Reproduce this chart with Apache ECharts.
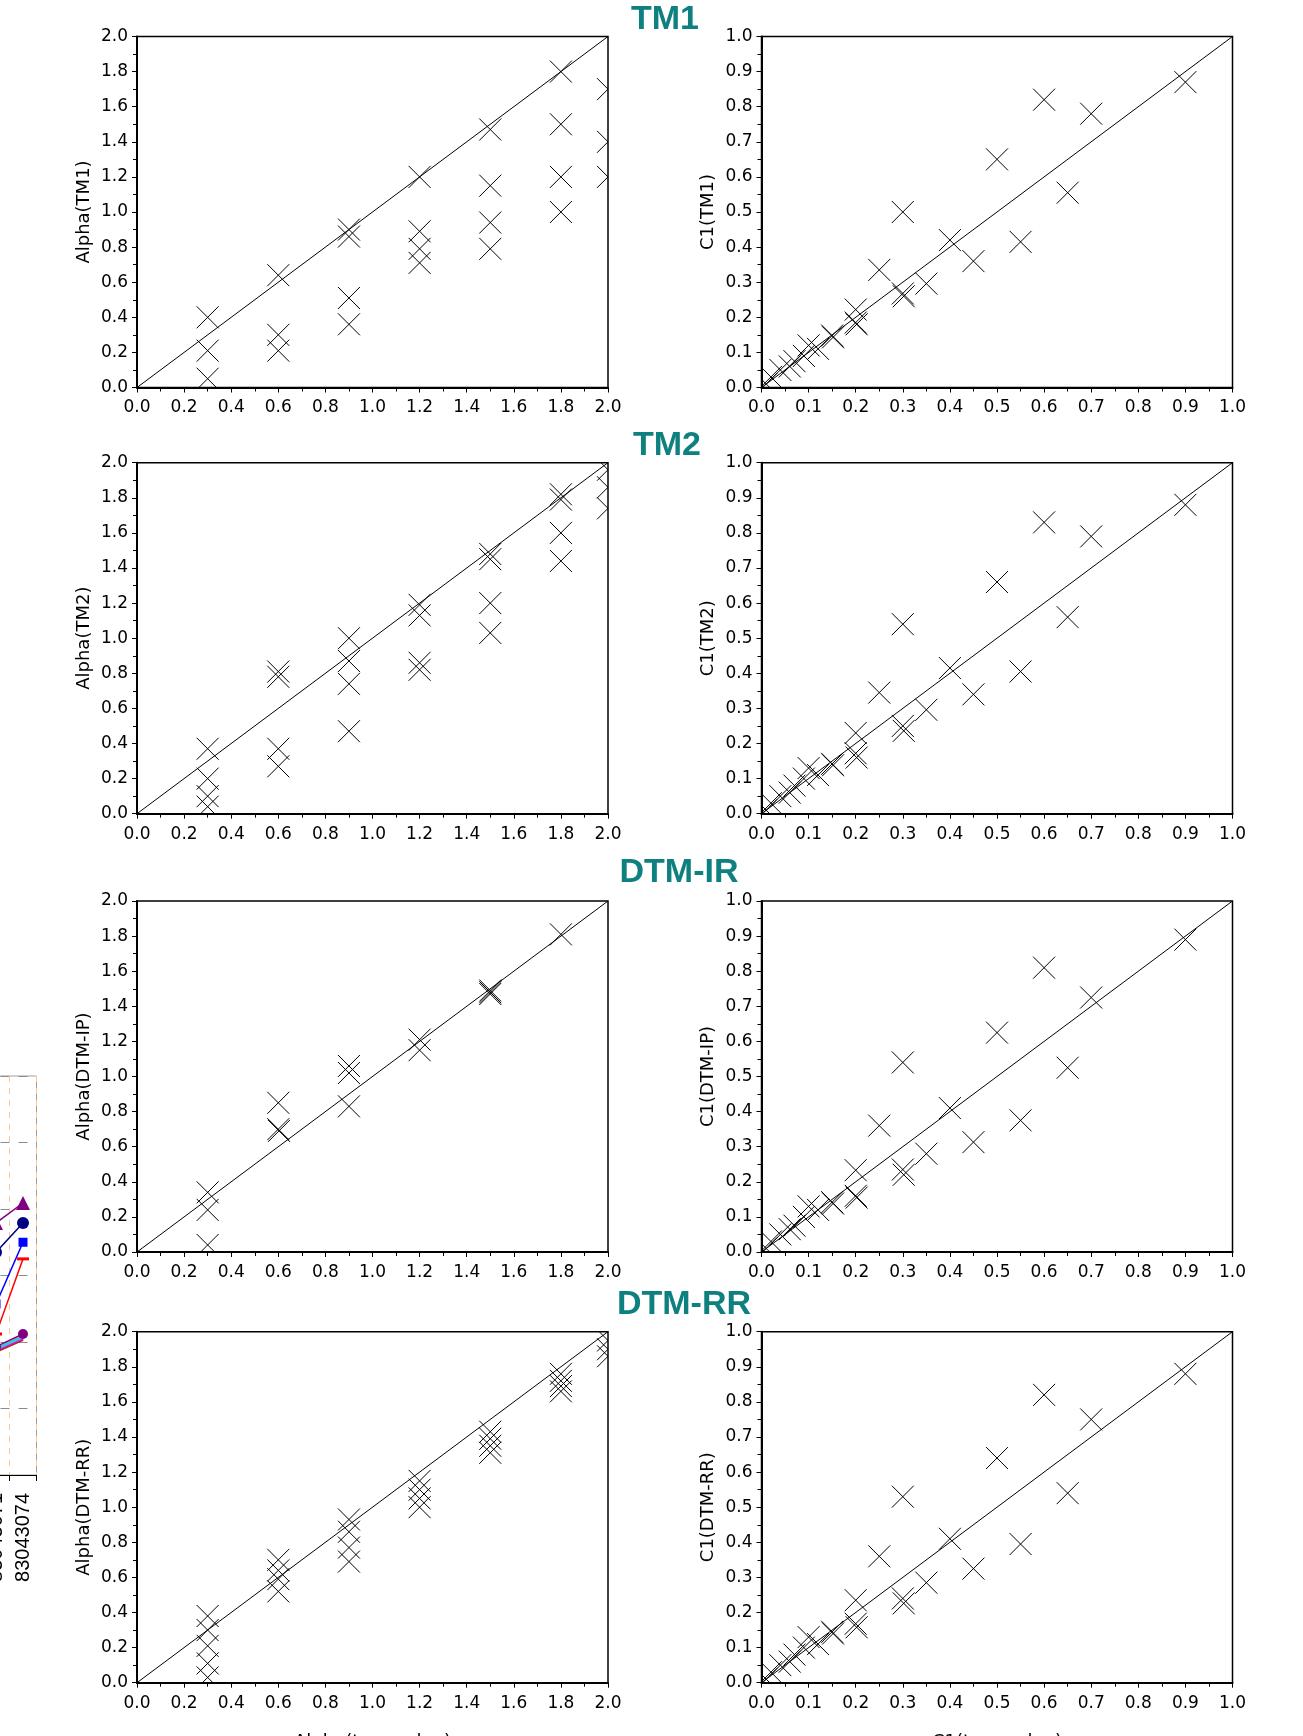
<!DOCTYPE html>
<html>
<head>
<meta charset="utf-8">
<script src="https://cdn.jsdelivr.net/npm/echarts@6/dist/echarts.min.js"></script>
<style>
  html, body { margin: 0; padding: 0; background: #fff; }
  #chart { width: 1303px; height: 1736px; }
</style>
</head>
<body>
<div id="chart"></div>
<script>
// ---------- data ----------
const methods = ["TM1", "TM2", "DTM-IR", "DTM-RR"];
const alphaNames = ["Alpha(TM1)", "Alpha(TM2)", "Alpha(DTM-IP)", "Alpha(DTM-RR)"];
const c1Names = ["C1(TM1)", "C1(TM2)", "C1(DTM-IP)", "C1(DTM-RR)"];

// left column: true alpha (x) vs estimated alpha (y)
const alphaX_TM1 = [0.3, 0.3, 0.3, 0.6, 0.6, 0.6, 0.9, 0.9, 0.9, 0.9, 1.2, 1.2, 1.2, 1.2, 1.5, 1.5, 1.5, 1.5, 1.8, 1.8, 1.8, 1.8, 2.0, 2.0, 2.0];
const alphaY_TM1 = [0.40, 0.21, 0.05, 0.64, 0.30, 0.21, 0.90, 0.86, 0.51, 0.36, 1.20, 0.89, 0.79, 0.71, 1.47, 1.15, 0.94, 0.79, 1.80, 1.50, 1.20, 1.00, 1.70, 1.40, 1.20];

const alphaX_TM2 = [0.3, 0.3, 0.3, 0.3, 0.6, 0.6, 0.6, 0.6, 0.9, 0.9, 0.9, 0.9, 1.2, 1.2, 1.2, 1.2, 1.5, 1.5, 1.5, 1.5, 1.8, 1.8, 1.8, 1.8, 2.0, 2.0, 2.0];
const alphaY_TM2 = [0.37, 0.20, 0.10, 0.04, 0.81, 0.78, 0.37, 0.27, 1.00, 0.87, 0.74, 0.47, 1.19, 1.13, 0.86, 0.82, 1.48, 1.45, 1.20, 1.03, 1.82, 1.79, 1.60, 1.44, 1.96, 1.86, 1.74];

const alphaX_IR = [0.3, 0.3, 0.3, 0.6, 0.6, 0.603, 0.9, 0.9, 0.9, 1.2, 1.2, 1.5, 1.5, 1.5, 1.8];
const alphaY_IR = [0.34, 0.24, 0.04, 0.85, 0.70, 0.69, 1.06, 1.02, 0.83, 1.21, 1.15, 1.49, 1.48, 1.47, 1.81];

const alphaX_RR = [0.3, 0.3, 0.3, 0.3, 0.3, 0.6, 0.6, 0.6, 0.6, 0.9, 0.9, 0.9, 0.9, 1.2, 1.2, 1.2, 1.2, 1.5, 1.5, 1.5, 1.5, 1.8, 1.8, 1.8, 1.8, 2.0, 2.0, 2.0];
const alphaY_RR = [0.38, 0.30, 0.21, 0.11, 0.03, 0.70, 0.64, 0.59, 0.52, 0.93, 0.86, 0.77, 0.69, 1.15, 1.10, 1.05, 1.00, 1.43, 1.39, 1.35, 1.31, 1.76, 1.72, 1.69, 1.66, 1.95, 1.90, 1.86];

// right column: true C1 (x) vs estimated C1 (y)
const c1X = [0.9, 0.6, 0.7, 0.5, 0.65, 0.3, 0.4, 0.55, 0.45, 0.25, 0.35, 0.3, 0.302, 0.2, 0.2, 0.202, 0.15, 0.152, 0.12, 0.1, 0.09, 0.07, 0.06, 0.04, 0.02, 0.01];
const c1Y_TM1 = [0.87, 0.82, 0.78, 0.65, 0.555, 0.50, 0.42, 0.415, 0.36, 0.335, 0.296, 0.268, 0.26, 0.222, 0.185, 0.18, 0.148, 0.143, 0.11, 0.12, 0.09, 0.075, 0.06, 0.05, 0.03, 0.01];
const c1Y_TM2 = [0.88, 0.83, 0.79, 0.66, 0.56, 0.54, 0.415, 0.405, 0.34, 0.345, 0.296, 0.25, 0.236, 0.23, 0.172, 0.16, 0.142, 0.138, 0.11, 0.13, 0.10, 0.08, 0.06, 0.05, 0.03, 0.01];
const c1Y_IR = [0.89, 0.81, 0.725, 0.625, 0.525, 0.54, 0.41, 0.375, 0.313, 0.36, 0.28, 0.235, 0.22, 0.233, 0.16, 0.155, 0.142, 0.138, 0.12, 0.13, 0.10, 0.075, 0.065, 0.05, 0.03, 0.01];
const c1Y_RR = [0.88, 0.82, 0.75, 0.64, 0.54, 0.53, 0.41, 0.395, 0.325, 0.36, 0.285, 0.24, 0.226, 0.235, 0.168, 0.158, 0.145, 0.14, 0.11, 0.13, 0.10, 0.08, 0.06, 0.05, 0.03, 0.01];

const identityAlpha = [0, 2];
const identityC1 = [0, 1];

// clipped line chart peeking in at the left edge
const stripCats = ["83043071", "83043074"];
const stripPurpleTri = [3.79, 4.09];
const stripNavyCircle = [3.35, 3.79];
const stripBlueSquare = [2.57, 3.50];
const stripRed = [2.12, 3.25];
const stripBrown = [1.86, 2.04];
const stripPink = [1.88, 2.06];
const stripCyan = [1.90, 2.08];
const stripPurpleCircle = [1.93, 2.12];

// ---------- layout ----------
const alphaSets = [[alphaX_TM1, alphaY_TM1], [alphaX_TM2, alphaY_TM2], [alphaX_IR, alphaY_IR], [alphaX_RR, alphaY_RR]];
const c1Sets = [c1Y_TM1, c1Y_TM2, c1Y_IR, c1Y_RR];
const rowTop = [36.5, 462.7, 901, 1331.7];
const titlePos = [[665, 20], [667, 446], [679, 873], [684, 1305]];
const PLOT_W = 471, PLOT_H = 351;
const LEFT_X = 137, RIGHT_X = 761.5;
const CROSS = 22;
const FONT = "DejaVu Sans";

const renderCross = (params, api) => {
  const p = api.coord([api.value(0), api.value(1)]);
  const h = CROSS / 2;
  const st = { stroke: "#000", lineWidth: 1 };
  return {
    type: "group",
    children: [
      { type: "line", shape: { x1: p[0] - h, y1: p[1] - h, x2: p[0] + h, y2: p[1] + h }, style: st },
      { type: "line", shape: { x1: p[0] - h, y1: p[1] + h, x2: p[0] + h, y2: p[1] - h }, style: st }
    ]
  };
};

const grids = [], xAxes = [], yAxes = [], series = [], graphics = [];

function axisCommon(max, step) {
  return {
    type: "value", min: 0, max: max, interval: step,
    axisLine: { show: true, onZero: false, lineStyle: { color: "#000", width: 2 } },
    axisTick: { show: true, length: 5, lineStyle: { color: "#000", width: 1 } },
    minorTick: { show: true, splitNumber: 2, length: 4, lineStyle: { color: "#000", width: 1 } },
    splitLine: { show: false },
    axisLabel: {
      color: "#000", fontFamily: FONT, fontSize: 17,
      showMinLabel: true, showMaxLabel: true,
      formatter: v => v.toFixed(1)
    },
    nameLocation: "middle",
    nameTextStyle: { color: "#000", fontFamily: FONT, fontSize: 18 }
  };
}

function addPanel(left, top, max, step, xs, ys, yName, xName) {
  const i = grids.length;
  grids.push({
    left: left, top: top, width: PLOT_W, height: PLOT_H,
    show: true, borderColor: "#000", borderWidth: 1.5,
    outerBoundsMode: "none", containLabel: false
  });
  const xa = axisCommon(max, step);
  xa.gridIndex = i;
  xa.axisLabel.margin = 12;
  if (xName) { xa.name = xName; xa.nameGap = 51; }
  xAxes.push(xa);
  const ya = axisCommon(max, step);
  ya.gridIndex = i;
  ya.axisLabel.margin = 9;
  ya.name = yName;
  ya.nameGap = 44;
  yAxes.push(ya);
  const diag = max === 2 ? identityAlpha : identityC1;
  series.push({
    type: "line", xAxisIndex: i, yAxisIndex: i, silent: true,
    data: [[diag[0], diag[0]], [diag[1], diag[1]]],
    symbol: "none", lineStyle: { color: "#000", width: 1 }, z: 2
  });
  series.push({
    type: "custom", xAxisIndex: i, yAxisIndex: i, silent: true, clip: true,
    renderItem: renderCross,
    data: xs.map((x, k) => [x, ys[k]]), z: 3
  });
}

methods.forEach((m, r) => {
  const last = r === methods.length - 1;
  addPanel(LEFT_X, rowTop[r], 2, 0.2, alphaSets[r][0], alphaSets[r][1], alphaNames[r], last ? "Alpha(true value)" : null);
  addPanel(RIGHT_X, rowTop[r], 1, 0.1, c1X, c1Sets[r], c1Names[r], last ? "C1(true value)" : null);
  graphics.push({
    type: "text", x: titlePos[r][0], y: titlePos[r][1], z: 10,
    style: {
      text: m, fill: "#0f8080", font: 'bold 34px "Liberation Sans", Arial, sans-serif',
      textAlign: "center", textVerticalAlign: "middle", align: "center", verticalAlign: "middle"
    }
  });
});

// strip chart at the left border
const si = grids.length;
grids.push({
  left: -17.5, top: 1076, width: 54, height: 399,
  show: true, borderColor: "#a0a0a0", borderWidth: 1,
  outerBoundsMode: "none", containLabel: false
});
xAxes.push({
  gridIndex: si, type: "category", data: stripCats, boundaryGap: true,
  axisLine: { lineStyle: { color: "#000", width: 1 } },
  axisTick: { show: true, length: 6, lineStyle: { color: "#000" } },
  splitLine: { show: true, lineStyle: { color: "#ffc890", type: [6, 6], width: 1 } },
  axisLabel: { rotate: 90, color: "#000", fontFamily: "Liberation Sans", fontSize: 20, margin: 18 }
});
yAxes.push({
  gridIndex: si, type: "value", min: 0, max: 6, interval: 1,
  axisLine: { show: false }, axisTick: { show: false }, axisLabel: { show: false },
  splitLine: { show: true, lineStyle: { color: "#8c8c8c", type: [9, 9], width: 1 } }
});
const stripSeries = [
  [stripBrown, "#993300", "none", 4],
  [stripPink, "#ff00ff", "none", 4],
  [stripCyan, "#33cccc", "none", 4],
  [stripPurpleCircle, "#800080", "circle", 10],
  [stripRed, "#ff0000", "rect", [12, 3]],
  [stripBlueSquare, "#0000ff", "rect", 9],
  [stripNavyCircle, "#000080", "circle", 12],
  [stripPurpleTri, "#800080", "triangle", 14]
];
stripSeries.forEach(([vals, col, sym, sz]) => {
  series.push({
    type: "line", xAxisIndex: si, yAxisIndex: si, silent: true,
    data: vals, symbol: sym, symbolSize: sz, showSymbol: true,
    lineStyle: { color: col, width: sym === "none" ? 3 : 1.5 },
    itemStyle: { color: col }
  });
});

const chart = echarts.init(document.getElementById("chart"), null, { renderer: "canvas" });
chart.setOption({
  animation: false,
  backgroundColor: "#fff",
  grid: grids,
  xAxis: xAxes,
  yAxis: yAxes,
  series: series,
  graphic: graphics
});
</script>
</body>
</html>
